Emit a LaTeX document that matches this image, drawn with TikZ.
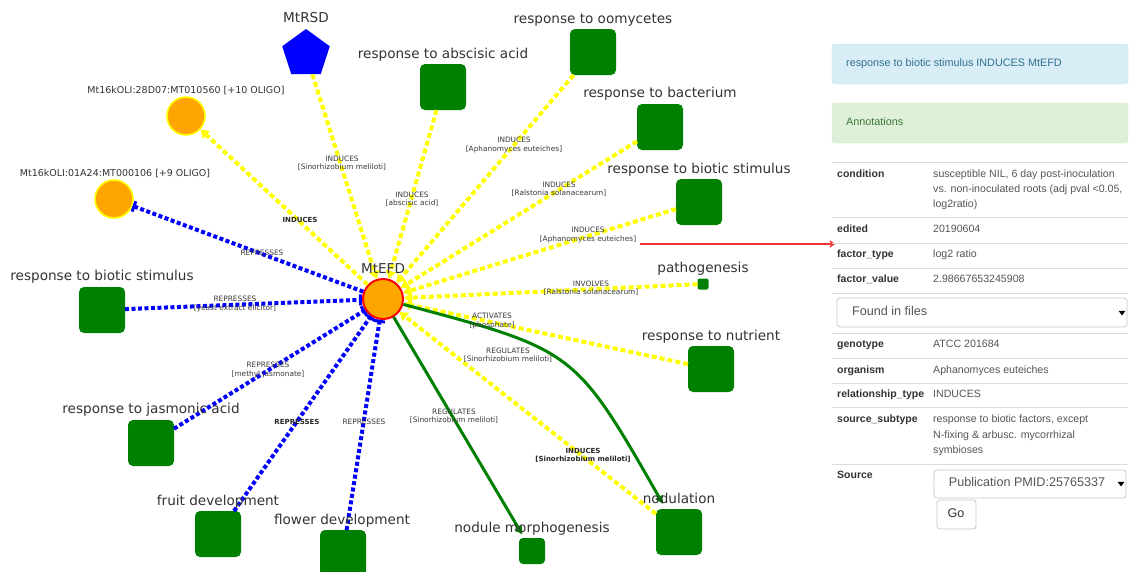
\documentclass[tikz,border=0pt]{standalone}
\usepackage{fontspec}
\setmainfont{DejaVu Sans}
\newfontfamily\libfont{Liberation Sans}
\usetikzlibrary{arrows.meta,shapes.geometric}
\definecolor{ggreen}{HTML}{008000}
\definecolor{yel}{HTML}{FFFF00}
\definecolor{bblue}{HTML}{0000FF}
\definecolor{orng}{HTML}{FFA500}
\definecolor{txtc}{HTML}{333333}
\definecolor{elc}{HTML}{3A3A3A}
\definecolor{valc}{HTML}{555555}
\definecolor{linec}{HTML}{DDDDDD}
\definecolor{infofill}{HTML}{D9EDF7}
\definecolor{infodraw}{HTML}{BCE8F1}
\definecolor{infotext}{HTML}{31708F}
\definecolor{okfill}{HTML}{DFF0D8}
\definecolor{okdraw}{HTML}{D6E9C6}
\definecolor{oktext}{HTML}{3C763D}
\definecolor{redarrow}{HTML}{EE3333}
\tikzset{
  sqnode/.style={rectangle, rounded corners=5pt, fill=ggreen, minimum size=46pt, inner sep=0pt, outer sep=0pt},
  olinode/.style={circle, fill=orng, draw=yel, line width=1.6pt, minimum size=38pt, inner sep=0pt},
  efdnode/.style={circle, fill=orng, draw=red, line width=2pt, minimum size=40pt, inner sep=0pt},
  pentnode/.style={regular polygon, regular polygon sides=5, fill=bblue, minimum size=50pt, inner sep=0pt},
  nlab/.style={font=\fontsize{13.6}{16}\selectfont, text=txtc, inner sep=0pt, text height=0.75em, text depth=0.25em},
  slab/.style={font=\fontsize{9.5}{11}\selectfont, text=txtc, inner sep=0pt, text height=0.75em, text depth=0.25em},
  elab/.style={font=\fontsize{7.4}{8.2}\selectfont, text=elc, align=center, inner sep=0pt},
  elabb/.style={font=\bfseries\fontsize{7}{8.2}\selectfont, text=black!85, align=center, inner sep=0pt},
  yedge/.style={draw=yel, line width=4pt, dash pattern=on 5pt off 3pt, -{Triangle[length=8pt,width=10pt]}},
  bedge/.style={draw=bblue, line width=4pt, dash pattern=on 4pt off 2.5pt, -{Bar[width=11pt,line width=3pt]}},
  gedge/.style={draw=ggreen, line width=3pt, -{Triangle[length=8pt,width=8pt]}},
  plab/.style={font=\libfont\bfseries\fontsize{10.5}{13}\selectfont, text=txtc, anchor=west, inner sep=0pt, text height=0.75em, text depth=0.25em},
  pval/.style={font=\libfont\fontsize{10.6}{13}\selectfont, text=valc, anchor=west, inner sep=0pt, text height=0.75em, text depth=0.25em},
  rowline/.style={draw=linec, line width=0.8pt},
  selbox/.style={draw=black!22, fill=white, rounded corners=3pt, line width=0.8pt},
}
\begin{document}
\begin{tikzpicture}[x=1pt,y=-1pt]
\useasboundingbox[fill=white] (0,0) rectangle (1130,571);

% ---------- graph nodes ----------
\node[efdnode] (efd) at (383,299) {};
\node[olinode] (o28) at (186,116) {};
\node[olinode] (o01) at (114,199) {};
\node[pentnode] (rsd) at (306,54) {};
\node[sqnode] (abs) at (443,87) {};
\node[sqnode] (oom) at (593,52) {};
\node[sqnode] (bac) at (660,127) {};
\node[sqnode] (bsr) at (699,202) {};
\node[sqnode, minimum size=11pt, rounded corners=2pt] (pat) at (703,284) {};
\node[sqnode] (nut) at (711,369) {};
\node[sqnode] (nod) at (679,532) {};
\node[sqnode, minimum size=26pt, rounded corners=4pt] (nmo) at (532,551) {};
\node[sqnode] (flo) at (343,553) {};
\node[sqnode] (fru) at (218,534) {};
\node[sqnode] (jas) at (151,443) {};
\node[sqnode] (bsl) at (102,310) {};
\coordinate (cnod) at (575,350);

% ---------- edges ----------
\draw[yedge] (rsd) -- (efd);
\draw[yedge] (abs) -- (efd);
\draw[yedge] (oom) -- (efd);
\draw[yedge] (bac) -- (efd);
\draw[yedge] (bsr) -- (efd);
\draw[yedge] (pat) -- (efd);
\draw[yedge] (nut) -- (efd);
\draw[yedge] (nod) -- (efd);
\draw[yedge] (efd) -- (o28);
\draw[bedge] (efd) -- (o01);
\draw[bedge] (bsl) -- (efd);
\draw[bedge] (jas) -- (efd);
\draw[bedge] (fru) -- (efd);
\draw[bedge] (flo) -- (efd);
\draw[gedge, shorten >=4pt] (efd) -- (nmo);
\draw[gedge, shorten >=6pt] (efd) .. controls (cnod) .. (nod);

% ---------- node labels ----------
\node[nlab] (tefd) at (383,271) {MtEFD};
\node[nlab] (trsd) at (306,20) {MtRSD};
\node[slab] (to28) at (186,91) {Mt16kOLI:28D07:MT010560 [+10 OLIGO]};
\node[slab] (to01) at (115,174) {Mt16kOLI:01A24:MT000106 [+9 OLIGO]};
\node[nlab] (tabs) at (443,56) {response to abscisic acid};
\node[nlab] (toom) at (593,21) {response to oomycetes};
\node[nlab] (tbac) at (660,95) {response to bacterium};
\node[nlab] (tbsr) at (699,171) {response to biotic stimulus};
\node[nlab] (tpat) at (703,270) {pathogenesis};
\node[nlab] (tnut) at (711,338) {response to nutrient};
\node[nlab] (tnod) at (679,501) {nodulation};
\node[nlab] (tnmo) at (532,530) {nodule morphogenesis};
\node[nlab] (tflo) at (342,522) {flower development};
\node[nlab] (tfru) at (218,503) {fruit development};
\node[nlab] (tjas) at (151,411) {response to jasmonic acid};
\node[nlab] (tbsl) at (102,278) {response to biotic stimulus};

% ---------- edge labels ----------
\node[elab] (e1) at (342,163) {INDUCES\\{[}Sinorhizobium meliloti]};
\node[elab] (e2) at (412,199) {INDUCES\\{[}abscisic acid]};
\node[elab] (e3) at (514,145) {INDUCES\\{[}Aphanomyces euteiches]};
\node[elab] (e4) at (559,189) {INDUCES\\{[}Ralstonia solanacearum]};
\node[elab] (e5) at (588,235) {INDUCES\\{[}Aphanomyces euteiches]};
\node[elab] (e6) at (591,288) {INVOLVES\\{[}Ralstonia solanacearum]};
\node[elab] (e7) at (492,321) {ACTIVATES\\{[}phosphate]};
\node[elab] (e8) at (508,355) {REGULATES\\{[}Sinorhizobium meliloti]};
\node[elabb] (e9) at (583,455) {INDUCES\\{[}Sinorhizobium meliloti]};
\node[elab] (e10) at (454,416) {REGULATES\\{[}Sinorhizobium meliloti]};
\node[elab] (e11) at (364,422) {REPRESSES};
\node[elabb] (e12) at (297,422) {REPRESSES};
\node[elab] (e13) at (268,370) {REPRESSES\\{[}methyl jasmonate]};
\node[elab] (e14) at (235,304) {REPRESSES\\{[}yeast extract elicitor]};
\node[elab] (e15) at (262,253) {REPRESSES};
\node[elabb] (e16) at (300,220) {INDUCES};

% ---------- red pointer ----------
\coordinate (ra) at (640,244);
\coordinate (rb) at (835,244);
\draw[redarrow, line width=1.4pt, -{Straight Barb[length=4pt,width=6pt]}] (ra) -- (rb);

% ---------- right panel ----------
\draw[fill=infofill, draw=infodraw, rounded corners=3pt] (832,44) rectangle (1128,84);
\node[font=\libfont\fontsize{10.8}{13}\selectfont, text=infotext, anchor=west, inner sep=0pt, text height=0.75em, text depth=0.25em] (info) at (846,64) {response to biotic stimulus INDUCES MtEFD};
\draw[fill=okfill, draw=okdraw, rounded corners=3pt] (832,103) rectangle (1128,143);
\node[font=\libfont\fontsize{10.8}{13}\selectfont, text=oktext, anchor=west, inner sep=0pt, text height=0.75em, text depth=0.25em] (annot) at (846,123) {Annotations};

\foreach \yy in {162,217,243,268,293,333,358,383,407,464}
  \draw[rowline] (832,\yy) -- (1128,\yy);

\node[plab] (pc) at (837,175) {condition};
\node[pval] (vc1) at (933,175) {susceptible NIL, 6 day post-inoculation};
\node[pval] (vc2) at (933,190) {vs. non-inoculated roots (adj pval <0.05,};
\node[pval] (vc3) at (933,205) {log2ratio)};
\node[plab] (pe) at (837,230) {edited};
\node[pval] (ve) at (933,230) {20190604};
\node[plab] (pft) at (837,255) {factor\_type};
\node[pval] (vft) at (933,255) {log2 ratio};
\node[plab] (pfv) at (837,280) {factor\_value};
\node[pval] (vfv) at (933,280) {2.98667653245908};

\draw[selbox] (837,298) rectangle (1127,327);
\node[font=\libfont\fontsize{12.6}{15}\selectfont, text=valc, anchor=west, inner sep=0pt, text height=0.75em, text depth=0.25em] (found) at (852,313) {Found in files};
\draw[fill=black] (1119,311) -- (1125,311) -- (1122,315) -- cycle;

\node[plab] (pg) at (837,345) {genotype};
\node[pval] (vg) at (933,345) {ATCC 201684};
\node[plab] (po) at (837,371) {organism};
\node[pval] (vo) at (933,371) {Aphanomyces euteiches};
\node[plab] (pr) at (837,395) {relationship\_type};
\node[pval] (vr) at (933,395) {INDUCES};
\node[plab] (ps) at (837,420) {source\_subtype};
\node[pval] (vs1) at (933,420) {response to biotic factors, except};
\node[pval] (vs2) at (933,436) {N-fixing \& arbusc. mycorrhizal};
\node[pval] (vs3) at (933,451) {symbioses};
\node[plab] (psrc) at (837,476) {Source};

\draw[selbox] (934,470) rectangle (1126,498);
\node[font=\libfont\fontsize{12.6}{15}\selectfont, text=valc, inner sep=0pt, text height=0.75em, text depth=0.25em] (pub) at (1027,484) {Publication PMID:25765337};
\draw[fill=black] (1118,482) -- (1124,482) -- (1121,486) -- cycle;
\draw[selbox] (937,500) rectangle (976,529);
\node[font=\libfont\fontsize{12.6}{15}\selectfont, text=txtc, inner sep=0pt, text height=0.75em, text depth=0.25em] (go) at (956,515) {Go};
\end{tikzpicture}
\end{document}
